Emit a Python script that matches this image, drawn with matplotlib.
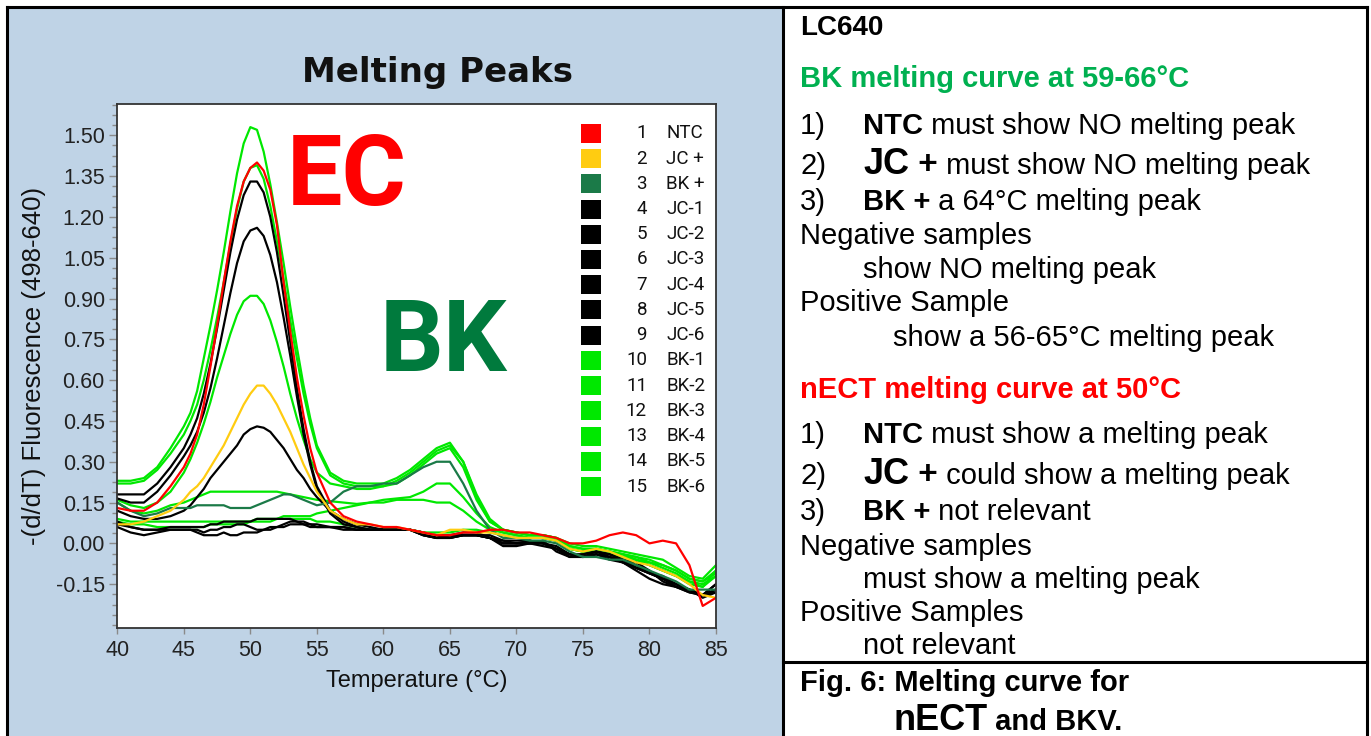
import matplotlib
matplotlib.use("Agg")
import matplotlib.pyplot as plt
from matplotlib.lines import Line2D
from matplotlib.patches import Rectangle
from matplotlib.ticker import AutoMinorLocator

W, H = 1371, 736
SANS = ["Liberation Sans", "DejaVu Sans"]
TAG = ["Roboto", "Liberation Sans", "DejaVu Sans"]

# temperature grid (half-degree steps across the 50 degC peak)
temps = [40, 41, 42, 43, 44, 45,
         45.5, 46, 46.5, 47, 47.5, 48, 48.5, 49, 49.5, 50,
         50.5, 51, 51.5, 52, 52.5, 53, 53.5, 54, 54.5, 55,
         56, 57, 58, 59, 60, 61, 62, 63, 64, 65,
         66, 67, 68, 69, 70, 71, 72, 73, 74, 75,
         76, 77, 78, 79, 80, 81, 82, 83, 84, 85]

ntc = [.13, .12, .12, .15, .21, .28,
       .33, .40, .51, .65, .80, .96, 1.11, 1.24, 1.33, 1.38,
       1.40, 1.37, 1.30, 1.17, .96, .78, .61, .47, .35, .26,
       .15, .10, .08, .07, .06, .06, .05, .04, .03, .03,
       .04, .04, .05, .05, .04, .04, .03, .02, .00, .00,
       .01, .03, .04, .03, .00, .01, .00, -.08, -.23, -.20]
jc_pos = [.07, .07, .08, .10, .12, .16,
          .19, .21, .24, .28, .32, .36, .41, .46, .51, .55,
          .58, .58, .55, .51, .46, .41, .35, .29, .24, .19,
          .12, .09, .07, .07, .06, .06, .05, .04, .03, .05,
          .05, .04, .04, .03, .02, .02, .02, .01, -.02, -.03,
          -.02, -.03, -.05, -.07, -.08, -.10, -.12, -.15, -.19, -.20]
bk_pos = [.15, .12, .10, .11, .13, .13,
          .13, .14, .14, .14, .14, .14, .13, .13, .13, .13,
          .14, .15, .16, .17, .18, .18, .17, .16, .15, .14,
          .15, .19, .21, .21, .22, .22, .25, .28, .30, .30,
          .22, .12, .05, .02, .02, .01, .01, .00, -.03, -.05,
          -.05, -.06, -.06, -.08, -.10, -.12, -.14, -.17, -.17, -.17]
jc_1 = [.18, .18, .18, .22, .28, .35,
        .40, .46, .55, .66, .79, .93, 1.07, 1.19, 1.28, 1.33,
        1.33, 1.29, 1.20, 1.07, .91, .74, .57, .42, .30, .21,
        .12, .08, .06, .05, .05, .05, .05, .03, .02, .03,
        .03, .03, .03, .01, .01, .01, .00, -.01, -.04, -.05,
        -.04, -.05, -.07, -.09, -.11, -.13, -.15, -.17, -.19, -.17]
jc_2 = [.165, .15, .15, .19, .25, .32,
        .36, .41, .48, .57, .68, .80, .92, 1.03, 1.11, 1.15,
        1.16, 1.13, 1.06, .96, .83, .69, .54, .40, .29, .20,
        .11, .07, .06, .05, .05, .05, .05, .03, .02, .02,
        .03, .03, .02, .00, .00, .00, -.01, -.02, -.05, -.05,
        -.04, -.06, -.07, -.10, -.13, -.15, -.16, -.18, -.19, -.17]
jc_3 = [.12, .10, .09, .09, .10, .12,
        .14, .17, .20, .24, .27, .30, .33, .36, .40, .42,
        .43, .425, .41, .38, .35, .31, .27, .24, .20, .17,
        .12, .09, .07, .06, .05, .05, .05, .04, .02, .02,
        .03, .03, .02, .00, .00, .00, .00, -.02, -.04, -.05,
        -.04, -.05, -.07, -.09, -.11, -.13, -.15, -.17, -.19, -.18]
jc_4 = [.08, .06, .05, .05, .06, .06,
        .06, .06, .06, .07, .07, .08, .08, .08, .08, .08,
        .09, .09, .09, .09, .09, .09, .08, .08, .07, .07,
        .06, .06, .05, .05, .05, .05, .05, .03, .02, .03,
        .03, .03, .02, .00, .00, .01, .00, -.02, -.04, -.05,
        -.03, -.05, -.06, -.08, -.11, -.13, -.16, -.18, -.19, -.15]
jc_5 = [.06, .04, .03, .04, .05, .05,
        .05, .04, .03, .03, .03, .04, .03, .03, .04, .04,
        .04, .05, .05, .06, .06, .07, .07, .07, .06, .06,
        .06, .05, .05, .05, .05, .05, .05, .04, .02, .02,
        .03, .03, .02, -.01, -.01, .00, .01, -.03, -.05, -.04,
        -.03, -.04, -.06, -.07, -.10, -.14, -.16, -.17, -.20, -.18]
jc_6 = [.07, .06, .05, .05, .05, .05,
        .05, .05, .04, .05, .05, .06, .06, .07, .07, .06,
        .05, .05, .06, .06, .07, .08, .08, .07, .07, .06,
        .06, .06, .05, .05, .05, .05, .05, .04, .03, .03,
        .04, .04, .02, .01, .00, .00, .00, -.02, -.04, -.04,
        -.03, -.04, -.06, -.09, -.11, -.12, -.15, -.17, -.19, -.15]
bk_1 = [.23, .23, .24, .28, .35, .43,
        .48, .56, .68, .80, .93, 1.07, 1.22, 1.36, 1.47, 1.53,
        1.52, 1.44, 1.32, 1.18, 1.03, .87, .72, .58, .46, .36,
        .26, .23, .22, .22, .22, .24, .27, .31, .35, .37,
        .30, .18, .09, .05, .04, .03, .03, .02, .00, -.01,
        -.01, -.02, -.03, -.04, -.05, -.06, -.09, -.12, -.13, -.08]
bk_2 = [.22, .22, .23, .27, .33, .40,
        .45, .51, .60, .71, .83, .96, 1.10, 1.23, 1.33, 1.38,
        1.39, 1.34, 1.24, 1.11, .97, .82, .68, .55, .44, .35,
        .25, .22, .21, .21, .21, .23, .26, .30, .34, .36,
        .30, .17, .08, .05, .04, .03, .03, .02, -.01, -.02,
        -.02, -.03, -.04, -.05, -.06, -.08, -.10, -.13, -.14, -.10]
bk_3 = [.16, .14, .13, .15, .19, .26,
        .31, .37, .44, .52, .61, .69, .77, .84, .89, .91,
        .91, .88, .82, .74, .65, .55, .46, .38, .31, .26,
        .22, .21, .20, .20, .21, .22, .25, .29, .33, .35,
        .28, .16, .08, .05, .04, .03, .03, .02, -.01, -.02,
        -.02, -.03, -.04, -.05, -.07, -.08, -.10, -.13, -.14, -.11]
bk_4 = [.15, .12, .11, .12, .14, .15,
        .16, .17, .18, .19, .19, .19, .19, .19, .19, .19,
        .19, .19, .19, .19, .185, .18, .175, .17, .165, .16,
        .155, .15, .145, .15, .16, .165, .17, .19, .22, .22,
        .17, .11, .06, .04, .03, .02, .02, .01, -.02, -.03,
        -.02, -.03, -.04, -.06, -.07, -.09, -.11, -.14, -.15, -.12]
bk_5 = [.09, .08, .08, .08, .08, .08,
        .08, .08, .08, .08, .08, .08, .08, .08, .08, .08,
        .09, .09, .09, .09, .10, .10, .10, .10, .10, .11,
        .12, .13, .14, .15, .15, .16, .16, .16, .15, .15,
        .12, .08, .05, .04, .03, .02, .02, .01, -.02, -.03,
        -.02, -.03, -.05, -.06, -.08, -.10, -.12, -.14, -.16, -.10]
bk_6 = [.08, .07, .07, .06, .06, .06,
        .06, .06, .06, .07, .07, .07, .07, .07, .07, .08,
        .08, .08, .08, .09, .09, .09, .09, .09, .09, .08,
        .08, .07, .06, .05, .05, .05, .05, .04, .04, .04,
        .05, .05, .04, .03, .02, .02, .02, .01, -.02, -.03,
        -.03, -.04, -.05, -.06, -.08, -.10, -.12, -.15, -.16, -.12]

sample_names = ["NTC", "JC +", "BK +", "JC-1", "JC-2", "JC-3", "JC-4", "JC-5",
                "JC-6", "BK-1", "BK-2", "BK-3", "BK-4", "BK-5", "BK-6"]
sample_values = [ntc, jc_pos, bk_pos, jc_1, jc_2, jc_3, jc_4, jc_5, jc_6,
                 bk_1, bk_2, bk_3, bk_4, bk_5, bk_6]
RED, YELLOW, DKGREEN, BLACK, GREEN = "#ff0000", "#ffcc11", "#1b7a48", "#000000", "#00e800"
sample_colors = [RED, YELLOW, DKGREEN] + [BLACK] * 6 + [GREEN] * 6
draw_order = list(range(9, 15)) + list(range(3, 9)) + [2, 1, 0]

y_ticks = [-0.15, 0.00, 0.15, 0.30, 0.45, 0.60, 0.75, 0.90, 1.05, 1.20, 1.35, 1.50]
x_ticks = [40, 45, 50, 55, 60, 65, 70, 75, 80, 85]


def fx(px):
    return px / W


def fy(py):
    return 1 - py / H


def write_runs(fig, renderer, x_px, base_px, runs):
    """Write differently styled pieces of one line next to each other."""
    x = x_px
    for text, size, weight, color in runs:
        t = fig.text(fx(x), fy(base_px), text, fontsize=size, fontweight=weight,
                     color=color, family=SANS, ha="left", va="baseline")
        x += t.get_window_extent(renderer).width


fig = plt.figure(figsize=(W / 100, H / 100), dpi=100)
fig.patch.set_facecolor("white")

# light blue panel behind the chart
fig.add_artist(Rectangle((fx(8), 0), fx(782) - fx(8), fy(8), transform=fig.transFigure,
                         facecolor="#bfd3e6", edgecolor="none", zorder=0))

ax = fig.add_axes([fx(117.3), fy(627.7), fx(716) - fx(117.3), fy(104) - fy(627.7)])
ax.set_facecolor("white")
for i in draw_order:
    ax.plot(temps, sample_values[i], color=sample_colors[i], lw=1.6,
            solid_joinstyle="round")

ax.set_xlim(40, 85)
ax.set_ylim(-0.31, 1.615)
ax.set_xticks(x_ticks)
ax.set_xticklabels([str(t) for t in x_ticks])
ax.set_yticks(y_ticks)
ax.set_yticklabels([f"{t:.2f}" for t in y_ticks])
ax.yaxis.set_minor_locator(AutoMinorLocator(4))
ax.tick_params(axis="y", which="major", length=6, width=1, color="#8a8a8a", pad=3,
               labelsize=15.5, labelcolor="#222222")
ax.tick_params(axis="y", which="minor", length=3.5, width=1, color="#8a8a8a")
ax.tick_params(axis="x", which="major", length=4, width=1, color="#8a8a8a", pad=5,
               labelsize=15.5, labelcolor="#222222")
for lab in ax.get_xticklabels() + ax.get_yticklabels():
    lab.set_family(SANS)
for sp in ax.spines.values():
    sp.set_color("#333333")
    sp.set_linewidth(1.3)

ax.set_xlabel("Temperature (°C)", fontsize=17, family=SANS, color="#111111", va="center")
ax.xaxis.set_label_coords(0.5, -(681 - 627.7) / 523.7)
ax.set_ylabel("-(d/dT) Fluorescence (498-640)", fontsize=18.5, family=SANS,
              color="#111111", va="center")
ax.yaxis.set_label_coords(-(117.3 - 34) / 598.7, 0.5)

fig.text(fx(438), fy(82), "Melting Peaks", fontsize=24.5, fontweight="bold",
         family=["DejaVu Sans"], color="#111111", ha="center", va="baseline")

# big channel tags
fig.text(fx(287), fy(205), "EC", fontsize=71, fontweight="bold", family=TAG,
         color="#ff0000", ha="left", va="baseline")
fig.text(fx(380), fy(371), "BK", fontsize=72, fontweight="bold", family=TAG,
         color="#007a3d", ha="left", va="baseline")

# sample key inside the plot
for k, (name, color) in enumerate(zip(sample_names, sample_colors)):
    cy = 133.3 + k * 25.24
    fig.add_artist(Rectangle((fx(581), fy(cy + 9.5)), fx(19.5), 19 / H,
                             transform=fig.transFigure, facecolor=color,
                             edgecolor="none", zorder=5))
    fig.text(fx(647), fy(cy), str(k + 1), fontsize=13.5, family=TAG,
             color="#111111", ha="right", va="center", zorder=5)
    fig.text(fx(666.5), fy(cy), name, fontsize=13.5, family=TAG,
             color="#111111", ha="left", va="center", zorder=5)


# table borders
def rule(x0, y0, x1, y1, lw=2.2):
    fig.add_artist(Line2D([fx(x0), fx(x1)], [fy(y0), fy(y1)], transform=fig.transFigure,
                          color="black", lw=lw, solid_capstyle="projecting", zorder=10))


rule(7, 7, 1367, 7)
rule(7, 7, 7, 736)
rule(1367, 7, 1367, 736)
rule(782.5, 7, 782.5, 736)
rule(782.5, 661.5, 1367, 661.5)

renderer = fig.canvas.get_renderer()
BODY = 21
GREEN_HEAD = "#00b050"
x0, x1, x2 = 800, 863, 893

write_runs(fig, renderer, x0, 35, [("LC640", 20, "bold", "black")])
write_runs(fig, renderer, x0, 87, [("BK melting curve at 59-66°C", BODY, "bold", GREEN_HEAD)])
write_runs(fig, renderer, x0, 134, [("1)", BODY, "normal", "black")])
write_runs(fig, renderer, x1, 134, [("NTC", BODY, "bold", "black"),
                                    (" must show NO melting peak", BODY, "normal", "black")])
write_runs(fig, renderer, x0, 174.5, [("2)", BODY, "normal", "black")])
write_runs(fig, renderer, x1, 174.5, [("JC", 26, "bold", "black"), (" +", 24, "bold", "black"),
                                      (" must show NO melting peak", BODY, "normal", "black")])
write_runs(fig, renderer, x0, 210, [("3)", BODY, "normal", "black")])
write_runs(fig, renderer, x1, 210, [("BK +", BODY, "bold", "black"),
                                    (" a 64°C melting peak", BODY, "normal", "black")])
write_runs(fig, renderer, x0, 244, [("Negative samples", BODY, "normal", "black")])
write_runs(fig, renderer, x1, 278, [("show NO melting peak", BODY, "normal", "black")])
write_runs(fig, renderer, x0, 311, [("Positive Sample", BODY, "normal", "black")])
write_runs(fig, renderer, x2, 346, [("show a 56-65°C melting peak", BODY, "normal", "black")])

write_runs(fig, renderer, x0, 398, [("nECT melting curve at 50°C", BODY, "bold", "#ff0000")])
write_runs(fig, renderer, x0, 443, [("1)", BODY, "normal", "black")])
write_runs(fig, renderer, x1, 443, [("NTC", BODY, "bold", "black"),
                                    (" must show a melting peak", BODY, "normal", "black")])
write_runs(fig, renderer, x0, 483.5, [("2)", BODY, "normal", "black")])
write_runs(fig, renderer, x1, 483.5, [("JC", 26, "bold", "black"), (" +", 24, "bold", "black"),
                                      (" could show a melting peak", BODY, "normal", "black")])
write_runs(fig, renderer, x0, 520, [("3)", BODY, "normal", "black")])
write_runs(fig, renderer, x1, 520, [("BK +", BODY, "bold", "black"),
                                    (" not relevant", BODY, "normal", "black")])
write_runs(fig, renderer, x0, 555, [("Negative samples", BODY, "normal", "black")])
write_runs(fig, renderer, x1, 588, [("must show a melting peak", BODY, "normal", "black")])
write_runs(fig, renderer, x0, 621, [("Positive Samples", BODY, "normal", "black")])
write_runs(fig, renderer, x1, 654, [("not relevant", BODY, "normal", "black")])

write_runs(fig, renderer, x0, 691, [("Fig. 6: Melting curve for", BODY, "bold", "black")])
write_runs(fig, renderer, x2, 730, [("nECT", 26, "bold", "black"),
                                    (" and BKV.", BODY, "bold", "black")])

fig.savefig("out.png", dpi=100, facecolor="white")
